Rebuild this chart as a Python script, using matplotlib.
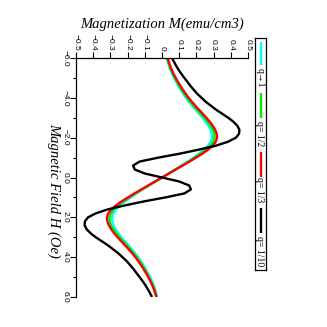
import numpy as np
import matplotlib
matplotlib.use('Agg')
import matplotlib.pyplot as plt

# magnetic field grid (Oe), step 0.2
field = np.linspace(-6, 6, 61)

# magnetization curves, one per q
m_q1 = [0.028, 0.034, 0.041, 0.049, 0.059, 0.070, 0.082, 0.094, 0.108, 0.123, 0.139,
        0.157, 0.176, 0.196, 0.216, 0.236, 0.254, 0.270, 0.282, 0.289, 0.290, 0.283,
        0.267, 0.244, 0.215, 0.183, 0.149, 0.113, 0.076, 0.038, 0.0,
        -0.038, -0.076, -0.113, -0.149, -0.183, -0.215, -0.244, -0.267, -0.283, -0.290,
        -0.289, -0.282, -0.270, -0.254, -0.236, -0.216, -0.196, -0.176, -0.157, -0.139,
        -0.123, -0.108, -0.094, -0.082, -0.070, -0.059, -0.049, -0.041, -0.034, -0.028]
m_q2 = [0.030, 0.037, 0.044, 0.053, 0.064, 0.075, 0.088, 0.101, 0.115, 0.130, 0.147,
        0.165, 0.185, 0.205, 0.226, 0.247, 0.266, 0.283, 0.296, 0.304, 0.305, 0.298,
        0.281, 0.256, 0.225, 0.190, 0.154, 0.116, 0.078, 0.039, 0.0,
        -0.039, -0.078, -0.116, -0.154, -0.190, -0.225, -0.256, -0.281, -0.298, -0.305,
        -0.304, -0.296, -0.283, -0.266, -0.247, -0.226, -0.205, -0.185, -0.165, -0.147,
        -0.130, -0.115, -0.101, -0.088, -0.075, -0.064, -0.053, -0.044, -0.037, -0.030]
m_q3 = [0.033, 0.040, 0.048, 0.057, 0.068, 0.080, 0.093, 0.107, 0.122, 0.138, 0.155,
        0.174, 0.194, 0.215, 0.237, 0.258, 0.278, 0.295, 0.309, 0.318, 0.320, 0.313,
        0.295, 0.268, 0.235, 0.198, 0.160, 0.120, 0.080, 0.040, 0.0,
        -0.040, -0.080, -0.120, -0.160, -0.198, -0.235, -0.268, -0.295, -0.313, -0.320,
        -0.318, -0.309, -0.295, -0.278, -0.258, -0.237, -0.215, -0.194, -0.174, -0.155,
        -0.138, -0.122, -0.107, -0.093, -0.080, -0.068, -0.057, -0.048, -0.040, -0.033]
m_q10 = [0.058, 0.070, 0.083, 0.097, 0.113, 0.130, 0.148, 0.165, 0.185, 0.205, 0.230,
         0.255, 0.285, 0.315, 0.350, 0.385, 0.415, 0.438, 0.450, 0.448, 0.430, 0.385,
         0.315, 0.215, 0.105, -0.020, -0.130, -0.168, -0.158, -0.100, 0.0,
         0.100, 0.158, 0.168, 0.130, 0.020, -0.105, -0.215, -0.315, -0.385, -0.430,
         -0.448, -0.450, -0.438, -0.415, -0.385, -0.350, -0.315, -0.285, -0.255, -0.230,
         -0.205, -0.185, -0.165, -0.148, -0.130, -0.113, -0.097, -0.083, -0.070, -0.058]

labels = ['q\u21921', 'q= 1/2', 'q= 1/3', 'q= 1/10']
colors = ['#00ffff', '#00ee00', '#ff0000', '#000000']
series = [m_q1, m_q2, m_q3, m_q10]

m_ticks = np.round(np.arange(-0.5, 0.51, 0.1), 1)
m_ticklabels = ['\u22120.5', '\u22120.4', '\u22120.3', '\u22120.2', '\u22120.1', '0',
                '0.1', '0.2', '0.3', '0.4', '0.5']
h_ticks = [-6, -4, -2, 0, 2, 4, 6]
h_ticklabels = ['\u22126.0', '\u22124.0', '\u22122.0', '0.0', '2.0', '4.0', '6.0']

W = 327
fig = plt.figure(figsize=(3.27, 3.27), dpi=100)

# the whole chart is turned a quarter turn clockwise: field runs down, magnetization runs right
ax = fig.add_axes([76 / W, 1 - 297 / W, 172 / W, 239 / W])
for m, c in zip(series, colors):
    ax.plot(m, field, color=c, lw=1.7, solid_capstyle='butt')

ax.set_xlim(-0.5, 0.5)
ax.set_ylim(6, -6)
ax.spines['right'].set_visible(False)
ax.spines['bottom'].set_visible(False)
for s in ('left', 'top'):
    ax.spines[s].set_linewidth(0.9)
ax.xaxis.tick_top()
ax.set_xticks(m_ticks)
ax.set_xticklabels(m_ticklabels, rotation=-90, fontsize=6, family='Liberation Sans')
ax.set_yticks(h_ticks)
ax.set_yticks(np.arange(-5, 6, 2), minor=True)
ax.set_yticklabels(h_ticklabels, rotation=-90, fontsize=6, family='Liberation Sans', va='center')
ax.tick_params(which='major', direction='out', length=4, width=0.8, pad=1)
ax.tick_params(which='minor', direction='out', length=2.5, width=0.8)

fig.text(162 / W, 1 - 24 / W, 'Magnetization M(emu/cm3)', ha='center', va='center',
         fontsize=10.5, family='Liberation Serif', style='italic')
fig.text(54 / W, 1 - 190 / W, 'Magnetic Field H (Oe)', ha='center', va='center', rotation=-90,
         fontsize=10.5, family='Liberation Serif', style='italic')

# legend, turned like the rest
lax = fig.add_axes([255 / W, 1 - 270 / W, 11 / W, 232 / W])
lax.set_xticks([])
lax.set_yticks([])
lax.set_xlim(0, 1)
lax.set_ylim(232, 0)
for s in lax.spines.values():
    s.set_linewidth(0.9)
slots = [(4, 27, 40), (55, 80, 96), (114, 139, 152), (170, 195, 213.5)]
for (y0, y1, ty), c, lab in zip(slots, colors, labels):
    lax.plot([0.55, 0.55], [y0, y1], color=c, lw=1.7, solid_capstyle='butt')
    lax.text(0.45, ty, lab, rotation=-90, ha='center', va='center', fontsize=7,
             family=['Liberation Serif', 'DejaVu Serif'])

fig.savefig('out.png', dpi=100)
